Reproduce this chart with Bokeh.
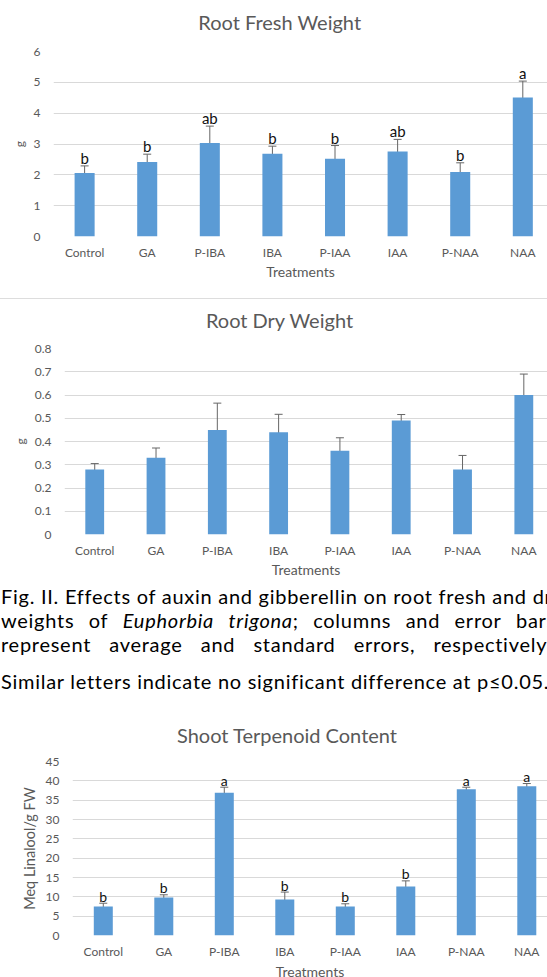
from bokeh.plotting import figure
from bokeh.models import Range1d, FixedTicker, ColumnDataSource, Whisker, TeeHead, Div
from bokeh.core.properties import value
from bokeh.embed import file_html
from bokeh.resources import INLINE

treatments = ["Control", "GA", "P-IBA", "IBA", "P-IAA", "IAA", "P-NAA", "NAA"]

fresh_mean = [2.06, 2.42, 3.03, 2.68, 2.52, 2.76, 2.09, 4.51]
fresh_err = [0.23, 0.25, 0.55, 0.25, 0.43, 0.39, 0.30, 0.53]
fresh_letters = ["b", "b", "ab", "b", "b", "ab", "b", "a"]
fresh_ticks = [0, 1, 2, 3, 4, 5, 6]

dry_mean = [0.28, 0.33, 0.45, 0.44, 0.36, 0.49, 0.28, 0.60]
dry_err = [0.025, 0.042, 0.115, 0.077, 0.056, 0.026, 0.060, 0.090]
dry_ticks = [0, 0.1, 0.2, 0.3, 0.4, 0.5, 0.6, 0.7, 0.8]

terp_mean = [7.5, 9.8, 36.9, 9.3, 7.5, 12.7, 37.8, 38.6]
terp_err = [0.85, 0.73, 1.45, 1.93, 0.70, 1.43, 0.55, 0.70]
terp_letters = ["b", "b", "a", "b", "b", "b", "a", "a"]
terp_ticks = [0, 5, 10, 15, 20, 25, 30, 35, 40, 45]

FONT = "Lato"
GRAY = "#595959"
BLUE = "#5b9bd5"
ERR = "#666666"


def title_div(text, height, top, center_x):
    html = ('<div style="position:relative;width:547px;height:%dpx;overflow:hidden">'
            '<span style="position:absolute;left:%.1fpx;top:%dpx;transform:translateX(-50%%);'
            'white-space:nowrap;font-family:Lato;font-size:20px;line-height:24px;color:%s">'
            '%s</span></div>' % (height, center_x, top, GRAY, text))
    return Div(text=html, width=547, height=height, margin=0)


def make_chart(means, errs, letters, ylabel, ticks, fw, fh, b_left, b_top, b_bottom,
               x_start, spacing_px, bar_w, letter_size, letter_off, ylab_size,
               ylab_standoff, tick_standoff, xlab_standoff):
    idx = list(range(len(treatments)))
    p = figure(frame_width=fw, frame_height=fh, output_backend="svg", toolbar_location=None,
               x_range=Range1d(x_start, x_start + fw / spacing_px),
               y_range=Range1d(ticks[0], ticks[-1]),
               min_border_left=b_left, min_border_right=0, min_border_top=b_top,
               min_border_bottom=b_bottom, outline_line_color=None)

    src = ColumnDataSource(dict(
        x=idx, top=means,
        upper=[m + e for m, e in zip(means, errs)],
        lower=[m - e for m, e in zip(means, errs)],
    ))
    p.vbar(x="x", top="top", bottom=0, width=bar_w, source=src,
           fill_color=BLUE, line_color=None)
    w = Whisker(base="x", upper="upper", lower="lower", source=src,
                line_color=ERR, line_width=1,
                upper_head=TeeHead(size=8, line_color=ERR, line_width=1),
                lower_head=TeeHead(size=8, line_color=ERR, line_width=1))
    p.add_layout(w)
    if letters is not None:
        lsrc = ColumnDataSource(dict(x=idx, y=src.data["upper"], t=letters))
        p.text(x="x", y="y", text="t", source=lsrc, text_align="center",
               text_baseline="middle", y_offset=letter_off, text_font=value(FONT),
               text_font_size=letter_size, text_color="#111111")

    p.xgrid.visible = False
    p.ygrid.grid_line_color = "#d9d9d9"
    p.ygrid.grid_line_width = 1
    p.ygrid.ticker = FixedTicker(ticks=ticks)

    xa = p.xaxis[0]
    xa.ticker = FixedTicker(ticks=idx)
    xa.major_label_overrides = {i: n for i, n in enumerate(treatments)}
    xa.axis_line_color = None
    xa.major_tick_line_color = None
    xa.major_tick_out = 0
    xa.major_tick_in = 0
    xa.minor_tick_line_color = None
    xa.minor_tick_out = 0
    xa.major_label_text_font = FONT
    xa.major_label_text_font_size = "12px"
    xa.major_label_text_color = GRAY
    xa.major_label_standoff = tick_standoff
    xa.axis_label = "Treatments"
    xa.axis_label_text_font = FONT
    xa.axis_label_text_font_size = "14px"
    xa.axis_label_text_font_style = "normal"
    xa.axis_label_text_color = GRAY
    xa.axis_label_standoff = xlab_standoff

    ya = p.yaxis[0]
    ya.ticker = FixedTicker(ticks=ticks)
    ya.major_label_overrides = {0: "0"}
    ya.axis_line_color = None
    ya.major_tick_line_color = None
    ya.major_tick_out = 0
    ya.major_tick_in = 0
    ya.minor_tick_line_color = None
    ya.minor_tick_out = 0
    ya.major_label_text_font = FONT
    ya.major_label_text_font_size = "12px"
    ya.major_label_text_color = GRAY
    ya.major_label_standoff = 13
    ya.axis_label = ylabel
    ya.axis_label_text_font = FONT
    ya.axis_label_text_font_size = ylab_size
    ya.axis_label_text_font_style = "normal"
    ya.axis_label_text_color = GRAY
    ya.axis_label_standoff = ylab_standoff
    return p


# chart 1: title 0..34, plot 34..298; frame x 53..547, y 51..236
t1 = title_div("Root Fresh Weight", 34, 10, 279.7)
p1 = make_chart(fresh_mean, fresh_err, fresh_letters, "g", fresh_ticks,
                494, 185, 53, 17, 62, -0.497, 62.6, 0.32, "15px", -8, "12px", 4, 8, 0)
sep = Div(width=547, height=1, margin=0, styles={"background-color": "#dddddd"})
# chart 2: title 299..331, plot 331..578; frame x 64..547, y 348..534
t2 = title_div("Root Dry Weight", 32, 9, 279.5)
p2 = make_chart(dry_mean, dry_err, None, "g", dry_ticks,
                483, 186, 64, 17, 44, -0.493, 61.3, 0.307, "15px", -8, "12px", 4, 8, 0)


def words(line, W):
    spans = "".join("<span>%s</span>" % w for w in line)
    return ('<div style="display:flex;justify-content:space-between;white-space:nowrap;'
            'width:%dpx">%s</div>' % (W, spans))


caption_html = (
    '<div style="width:547px;height:120px;overflow:hidden;font-family:Lato;font-size:20px;'
    'line-height:24px;letter-spacing:0.73px;color:#000;padding:4px 0 0 1px;box-sizing:border-box">'
    '<div style="white-space:nowrap">Fig. II. Effects of auxin and gibberellin on root fresh and dry</div>'
    + words(["weights", "of", "<i>Euphorbia</i>", "<i>trigona</i>;", "columns", "and", "error", "bars"], 555)
    + words(["represent", "average", "and", "standard", "errors,", "respectively."], 551)
    + '<div style="white-space:nowrap;margin-top:13px">Similar letters indicate no significant difference at p&le;0.05.</div>'
    '</div>'
)
cap = Div(text=caption_html, width=547, height=120, margin=0)

# chart 3: title 698..746, plot 746..974; frame x 72..547, y 759..933
t3 = title_div("Shoot Terpenoid Content", 48, 23, 287.0)
p3 = make_chart(terp_mean, terp_err, terp_letters, "Meq Linalool/g FW",
                terp_ticks, 475, 174, 72, 13, 41, -0.509, 60.5, 0.314, "14px", -7,
                "14.5px", 5, 8, 1)

open("out.html", "w").write(file_html([t1, p1, sep, t2, p2, cap, t3, p3], INLINE))
